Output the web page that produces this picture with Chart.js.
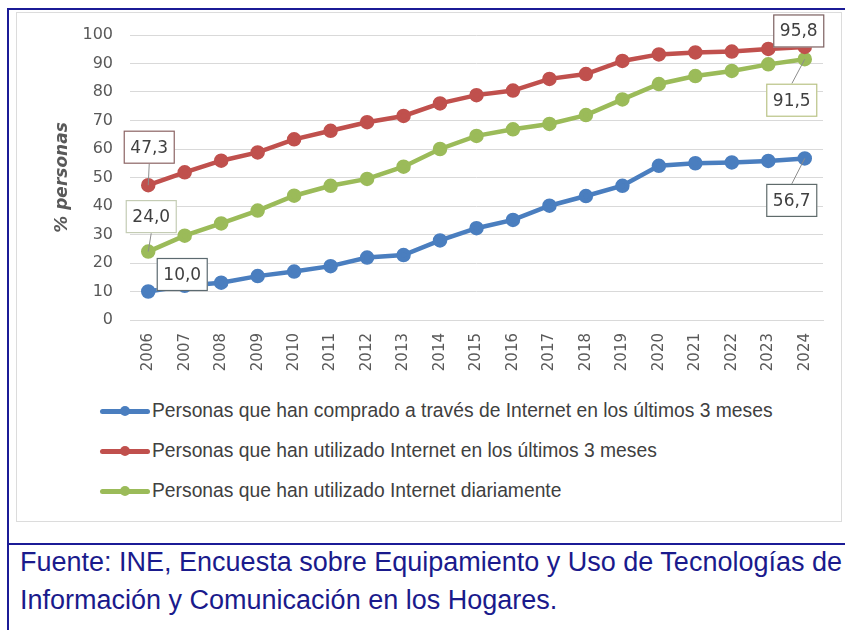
<!DOCTYPE html>
<html>
<head>
<meta charset="utf-8">
<script src="https://cdn.jsdelivr.net/npm/chart.js@4"></script>
<style>
    body { margin: 0; background: #fff; width: 845px; height: 630px; overflow: hidden; position: relative; }
    #frame { position: absolute; left: 7px; top: 8px; width: 838px; height: 622px; border-left: 2px solid #1b1b96; border-top: 2px solid #1b1b96; }
    #sep { position: absolute; left: 7px; top: 543px; width: 838px; height: 2px; background: #1b1b96; }
    #inner { position: absolute; left: 16px; top: 12px; width: 824px; height: 508px; border: 1px solid #dcdcdc; }
    #chartBox { position: absolute; left: 17px; top: 14px; width: 822px; height: 375px; }
    #legend { position: absolute; left: 100px; top: 391px; font-family: 'Liberation Sans', sans-serif; font-size: 19.3px; color: #404040; }
    .item { height: 40px; display: flex; align-items: center; }
    .swatch { position: relative; width: 50px; height: 12px; margin-right: 2px; }
    .swatch .ln { position: absolute; left: 0; top: 4px; width: 50px; height: 4.5px; border-radius: 3px; }
    .swatch .dt { position: absolute; left: 20px; top: 1px; width: 10px; height: 10px; border-radius: 50%; }
    #caption { position: absolute; left: 20px; top: 543px; font-family: 'Liberation Sans', Arial, sans-serif; font-size: 27px; line-height: 38px; color: #1a1a8c; }
</style>
</head>
<body>
<div id="frame"></div>
<div id="sep"></div>
<div id="inner"></div>
<div id="chartBox"><canvas id="lineChart"></canvas></div>
<div id="legend"></div>
<div id="caption">Fuente: INE, Encuesta sobre Equipamiento y Uso de Tecnologías de<br>Información y Comunicación en los Hogares.</div>
<script>
const years = ['2006', '2007', '2008', '2009', '2010', '2011', '2012', '2013', '2014', '2015',
    '2016', '2017', '2018', '2019', '2020', '2021', '2022', '2023', '2024'];

const compras = [10.0, 12.0, 13.1, 15.4, 17.0, 18.9, 21.9, 22.8, 27.9, 32.2,
    35.1, 40.1, 43.5, 47.1, 54.1, 55.0, 55.3, 55.8, 56.7];

const usoTresMeses = [47.3, 51.8, 55.9, 58.8, 63.4, 66.4, 69.4, 71.6, 76.0, 78.9,
    80.5, 84.6, 86.3, 90.9, 93.2, 93.9, 94.2, 95.1, 95.8];

const usoDiario = [24.0, 29.6, 33.9, 38.4, 43.6, 47.1, 49.5, 53.8, 60.0, 64.6,
    66.9, 68.8, 71.9, 77.4, 82.8, 85.6, 87.4, 89.7, 91.5];

const seriesNames = [
    'Personas que han comprado a través de Internet en los últimos 3 meses',
    'Personas que han utilizado Internet en los últimos 3 meses',
    'Personas que han utilizado Internet diariamente'
];
const seriesColors = ['#4a7ebf', '#c0504d', '#9bbb59'];

// which points get a boxed label, and where the box sits relative to the point
const labelBoxes = [
    { ds: 1, idx: 0, dx: 1, dy: -38, border: '#8c6464' },
    { ds: 2, idx: 0, dx: 3, dy: -35, border: '#c4ccb4' },
    { ds: 0, idx: 0, dx: 34, dy: -17, border: '#5c6a70' },
    { ds: 1, idx: 18, dx: -6, dy: -16, border: '#7c6060' },
    { ds: 2, idx: 18, dx: -13, dy: 41, border: '#b9c386' },
    { ds: 0, idx: 18, dx: -13, dy: 42, border: '#5f6b6b' }
];

function fmt(v) {
    return v.toFixed(1).replace('.', ',');
}

const boxLabels = {
    id: 'boxLabels',
    afterDatasetsDraw(chart) {
        const ctx = chart.ctx;
        ctx.save();
        ctx.font = '17px "DejaVu Sans", sans-serif';
        ctx.textAlign = 'center';
        ctx.textBaseline = 'middle';
        labelBoxes.forEach(function (lb) {
            const pt = chart.getDatasetMeta(lb.ds).data[lb.idx];
            const value = chart.data.datasets[lb.ds].data[lb.idx];
            const w = 51, h = 33;
            const cx = pt.x + lb.dx, cy = pt.y + lb.dy;
            if (Math.abs(lb.dy) > 25) {
                const ey = lb.dy < 0 ? cy + h / 2 : cy - h / 2;
                ctx.strokeStyle = '#8c8c8c';
                ctx.lineWidth = 1;
                ctx.beginPath();
                ctx.moveTo(pt.x, pt.y);
                ctx.lineTo(cx, ey);
                ctx.stroke();
            }
            ctx.fillStyle = '#ffffff';
            ctx.fillRect(cx - w / 2, cy - h / 2, w, h);
            ctx.strokeStyle = lb.border;
            ctx.lineWidth = 1.2;
            ctx.strokeRect(cx - w / 2 + 0.5, cy - h / 2 + 0.5, w - 1, h - 1);
            ctx.fillStyle = '#404040';
            ctx.fillText(fmt(value), cx, cy + 1);
        });
        ctx.restore();
    }
};

const allSeries = [compras, usoTresMeses, usoDiario];

const ctx = document.getElementById('lineChart').getContext('2d');
const lineChart = new Chart(ctx, {
    type: 'line',
    data: {
        labels: years,
        datasets: allSeries.map(function (values, i) {
            return {
                label: seriesNames[i],
                data: values,
                borderColor: seriesColors[i],
                backgroundColor: seriesColors[i],
                borderWidth: 4.5,
                pointRadius: 5,
                pointHoverRadius: 5,
                tension: 0
            };
        })
    },
    options: {
        responsive: true,
        maintainAspectRatio: false,
        animation: false,
        layout: { padding: { top: 21, right: 16, left: 0, bottom: 0 } },
        plugins: {
            legend: { display: false },
            tooltip: { enabled: false }
        },
        scales: {
            x: {
                offset: true,
                grid: { display: false, drawTicks: false },
                border: { display: true, color: '#d9d9d9' },
                ticks: {
                    autoSkip: false,
                    maxRotation: 90,
                    minRotation: 90,
                    padding: 13,
                    color: '#595959',
                    font: { family: 'DejaVu Sans', size: 15 }
                },
                afterFit: function (scale) { scale.height = 69; }
            },
            y: {
                min: 0,
                max: 100,
                grid: { color: '#d9d9d9', drawTicks: false },
                border: { display: false },
                ticks: {
                    stepSize: 10,
                    padding: 17,
                    color: '#595959',
                    font: { family: 'DejaVu Sans', size: 16 }
                },
                title: {
                    display: true,
                    text: '% personas',
                    color: '#595959',
                    font: { family: 'DejaVu Sans', size: 17, style: 'italic', weight: 'bold' },
                    padding: { top: 35, bottom: 0 }
                },
                afterFit: function (scale) {
                    scale.width = 113;
                    scale.paddingTop = 0;
                    scale.paddingBottom = 0;
                }
            }
        }
    },
    plugins: [boxLabels]
});

const legendEl = document.getElementById('legend');
seriesNames.forEach(function (name, i) {
    const row = document.createElement('div');
    row.className = 'item';
    row.innerHTML = '<div class="swatch"><div class="ln" style="background:' + seriesColors[i] +
        '"></div><div class="dt" style="background:' + seriesColors[i] + '"></div></div><span>' + name + '</span>';
    legendEl.appendChild(row);
});
</script>
</body>
</html>
